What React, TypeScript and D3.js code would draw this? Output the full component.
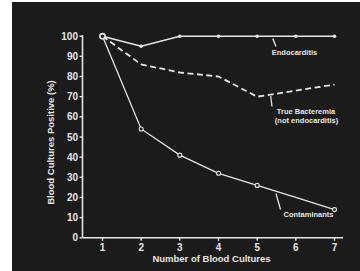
import React from "react";
import * as d3 from "d3";

const cultures = [1, 2, 3, 4, 5, 6, 7];
const endocarditis = [100, 95, 100, 100, 100, 100, 100];
const bacteremia = [100, 86, 82, 80, 70, 73, 76];
const contaminants = [100, 54, 41, 32, 26, 20, 14];
const contaminantMarkers = [2, 3, 4, 5, 7];
const yTicks = [0, 10, 20, 30, 40, 50, 60, 70, 80, 90, 100];
const xTicks = [1, 2, 3, 4, 5, 6, 7];

const W = 360;
const H = 271;
const FG = "#e6e6e6";
const FONT = "'Liberation Sans', Arial, sans-serif";

export default function App() {
  const x = d3.scaleLinear().domain([1, 7]).range([102.5, 334.5]);
  const y = d3.scaleLinear().domain([0, 100]).range([237.8, 36.2]);
  const mk = (vals: number[]) =>
    d3
      .line<number>()
      .x((_, i) => x(cultures[i]))
      .y((v) => y(v))(vals) as string;

  const axisY = y(0);
  const axisX = 82.5;

  return (
    <div style={{ position: "fixed", left: 0, top: 0 }}>
      <svg width={W} height={H} style={{ display: "block" }}>
        <rect x={0} y={0} width={W} height={H} fill="#ffffff" />
        <rect x={12} y={2} width={W - 12} height={H - 2} fill="#1b1b1b" />
        {/* axes */}
        <line x1={axisX} x2={axisX} y1={y(100) - 1} y2={axisY} stroke={FG} strokeWidth={1.6} />
        <line x1={axisX} x2={343} y1={axisY} y2={axisY} stroke={FG} strokeWidth={1.6} />
        {yTicks.map((t) => (
          <g key={"y" + t}>
            <line x1={axisX - 3} x2={axisX} y1={y(t)} y2={y(t)} stroke={FG} strokeWidth={1.4} />
            <text
              x={78}
              y={y(t) + 3.5}
              textAnchor="end"
              fill={FG}
              fontFamily={FONT}
              fontWeight="bold"
              fontSize={10}
            >
              {t}
            </text>
          </g>
        ))}
        {xTicks.map((t) => (
          <g key={"x" + t}>
            <line x1={x(t)} x2={x(t)} y1={axisY} y2={axisY + 3} stroke={FG} strokeWidth={1.4} />
            <text
              x={x(t)}
              y={251}
              textAnchor="middle"
              fill={FG}
              fontFamily={FONT}
              fontWeight="bold"
              fontSize={10}
            >
              {t}
            </text>
          </g>
        ))}
        <text
          x={211.5}
          y={262}
          textAnchor="middle"
          fill={FG}
          fontFamily={FONT}
          fontWeight="bold"
          fontSize={9.5}
        >
          Number of Blood Cultures
        </text>
        <text
          transform={`translate(54,142.5) rotate(-90)`}
          textAnchor="middle"
          fill={FG}
          fontFamily={FONT}
          fontWeight="bold"
          fontSize={9.5}
        >
          Blood Cultures Positive (%)
        </text>

        {/* series */}
        <path d={mk(endocarditis)} fill="none" stroke={FG} strokeWidth={1.6} />
        <path d={mk(bacteremia)} fill="none" stroke={FG} strokeWidth={1.8} strokeDasharray="6,3.5" />
        <path d={mk(contaminants)} fill="none" stroke={FG} strokeWidth={1.3} />
        {endocarditis.map((v, i) =>
          i === 0 ? null : (
            <circle key={"e" + i} cx={x(cultures[i])} cy={y(v)} r={1.8} fill={FG} />
          )
        )}
        {contaminantMarkers.map((c) => (
          <circle
            key={"c" + c}
            cx={x(c)}
            cy={y(contaminants[cultures.indexOf(c)])}
            r={2}
            fill="#1b1b1b"
            stroke={FG}
            strokeWidth={1.1}
          />
        ))}
        <circle cx={x(1)} cy={y(100)} r={2.6} fill="#1b1b1b" stroke={FG} strokeWidth={1.6} />

        {/* labels */}
        <line x1={272.7} y1={38.5} x2={276} y2={46.5} stroke={FG} strokeWidth={1.3} />
        <text x={294.5} y={54.5} textAnchor="middle" fill={FG} fontFamily={FONT} fontWeight="bold" fontSize={7.5}>
          Endocarditis
        </text>
        <line x1={270.7} y1={96} x2={272} y2={106.5} stroke={FG} strokeWidth={1.3} />
        <text x={306} y={113.5} textAnchor="middle" fill={FG} fontFamily={FONT} fontWeight="bold" fontSize={7.5}>
          True Bacteremia
        </text>
        <text x={306.5} y={123} textAnchor="middle" fill={FG} fontFamily={FONT} fontWeight="bold" fontSize={7.5}>
          (not endocarditis)
        </text>
        <line x1={276} y1={193.5} x2={280.5} y2={209.5} stroke={FG} strokeWidth={1.3} />
        <text x={308.5} y={217} textAnchor="middle" fill={FG} fontFamily={FONT} fontWeight="bold" fontSize={7.5}>
          Contaminants
        </text>
      </svg>
    </div>
  );
}
